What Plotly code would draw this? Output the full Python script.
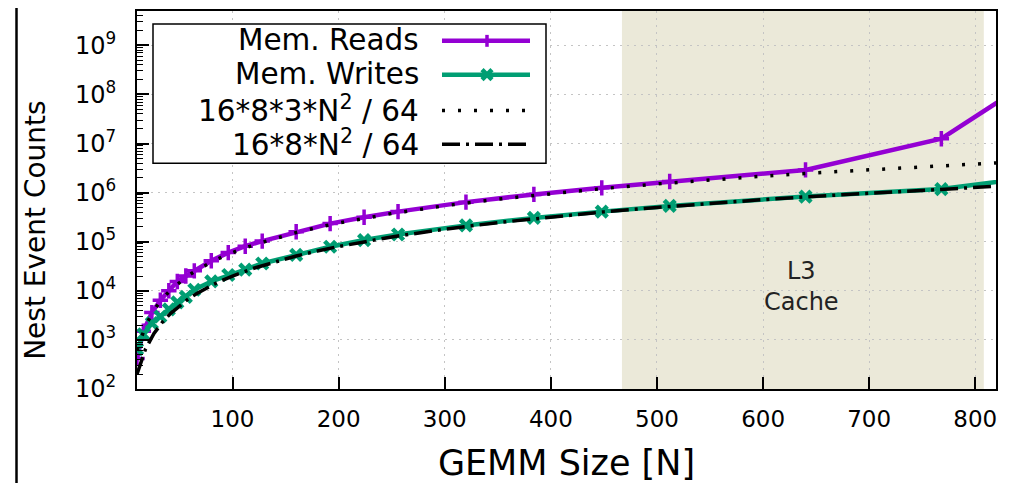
import plotly.graph_objects as go

# ---------------- data ----------------
N = [10, 16, 24, 32, 40, 48, 56, 64, 80, 96, 112, 128, 160, 192, 224,
     256, 320, 384, 448, 512, 640, 768, 896]
mem_reads = [420, 1500, 3600, 6400, 10000, 15500, 20000, 25500, 41000, 60000,
             81000, 103000, 159000, 234000, 315000, 410000, 640000, 920000,
             1250000, 1680000, 2900000, 12500000, 780000000]
mem_writes = [650, 1300, 2200, 3000, 4200, 5800, 7500, 10500, 15500, 21000,
              27000, 36000, 54000, 79000, 108000, 140000, 215000, 305000,
              410000, 535000, 830000, 1180000, 2700000]

N_fit = [10, 18, 26, 34, 42, 50, 58, 66, 74, 82, 90, 100, 120, 140, 160, 180,
         200, 250, 300, 350, 400, 450, 500, 550, 600, 650, 700, 750, 800, 820]
fit_reads = [600, 1944, 4056, 6936, 10584, 15000, 20184, 26136, 32856, 40344,
             48600, 60000, 86400, 117600, 153600, 194400, 240000, 375000,
             540000, 735000, 960000, 1215000, 1500000, 1815000, 2160000,
             2535000, 2940000, 3375000, 3840000, 4034400]
fit_writes = [200, 648, 1352, 2312, 3528, 5000, 6728, 8712, 10952, 13448,
              16200, 20000, 28800, 39200, 51200, 64800, 80000, 125000, 180000,
              245000, 320000, 405000, 500000, 605000, 720000, 845000, 980000,
              1125000, 1280000, 1344800]

series_names = ["Mem. Reads", "Mem. Writes",
                "16*8*3*N<sup>2</sup> / 64", "16*8*N<sup>2</sup> / 64"]

x_ticks = [100, 200, 300, 400, 500, 600, 700, 800]
y_ticks = [1e2, 1e3, 1e4, 1e5, 1e6, 1e7, 1e8, 1e9]
y_ticktext = ["10<sup>%d</sup>" % e for e in range(2, 10)]
y_minor = [m * 10 ** e for e in range(2, 10) for m in range(2, 10)]

L3_START, L3_END = 467, 808
X_RANGE = [10, 819.5]
Y_RANGE_LOG = [2, 9.699]

PURPLE = "#9400d3"
GREEN = "#009e73"
FONT = "DejaVu Sans"

# ---------------- layout geometry (page pixels) ----------------
PAGE_W, PAGE_H = 1026, 483
OFF = 8                      # default body margin of the html page
W, H = PAGE_W - OFF, PAGE_H - OFF
PL, PR, PT, PB = 137, 996, 9, 389


def px(x):
    return (x - PL) / (PR - PL)


def py(y):
    return (PB - y) / (PB - PT)


fig = go.Figure()

fig.add_trace(go.Scatter(x=N, y=mem_reads, mode="lines+markers",
                         name=series_names[0], showlegend=False,
                         line=dict(color=PURPLE, width=4.5),
                         marker=dict(symbol="cross-thin", size=11, color=PURPLE,
                                     line=dict(color=PURPLE, width=3.5))))
fig.add_trace(go.Scatter(x=N, y=mem_writes, mode="lines+markers",
                         name=series_names[1], showlegend=False,
                         line=dict(color=GREEN, width=4.5),
                         marker=dict(symbol="x-thin", size=11, color=GREEN,
                                     line=dict(color=GREEN, width=4.5))))
fig.add_trace(go.Scatter(x=N_fit, y=fit_reads, mode="lines",
                         name=series_names[2], showlegend=False,
                         line=dict(color="black", width=3.5, dash="3px,13px")))
fig.add_trace(go.Scatter(x=N_fit, y=fit_writes, mode="lines",
                         name=series_names[3], showlegend=False,
                         line=dict(color="black", width=3.5,
                                   dash="18px,6px,3px,6px")))

shapes = []
# L3 cache region
shapes.append(dict(type="rect", xref="x", yref="paper", x0=L3_START, x1=L3_END,
                   y0=0, y1=1, fillcolor="#ebe9d9", line=dict(width=0),
                   layer="between"))
# page border line at far left
shapes.append(dict(type="line", xref="paper", yref="paper",
                   x0=px(16.5), x1=px(16.5), y0=py(PAGE_H + 10), y1=py(-10),
                   line=dict(color="black", width=2.5)))

# custom legend (text right, sample left like gnuplot key)
shapes.append(dict(type="rect", xref="paper", yref="paper",
                   x0=px(153), x1=px(546), y0=py(162), y1=py(22),
                   fillcolor="white", line=dict(color="black", width=1.5),
                   layer="above"))
rows = [38, 72, 108, 142]
sx0, sx1, smid = 442, 530, 487
styles = [dict(color=PURPLE, width=4.5), dict(color=GREEN, width=4.5),
          dict(color="black", width=3.5, dash="3px,13px"),
          dict(color="black", width=3.5, dash="18px,6px,3px,6px")]
annotations = []
for name, ry, st in zip(series_names, rows, styles):
    shapes.append(dict(type="line", xref="paper", yref="paper",
                       x0=px(sx0), x1=px(sx1), y0=py(ry + 1), y1=py(ry + 1),
                       line=st, layer="above"))
    annotations.append(dict(text=name, xref="paper", yref="paper",
                            x=px(421), y=py(ry), xanchor="right",
                            yanchor="middle", showarrow=False,
                            font=dict(family=FONT, size=29.5, color="black")))
# legend markers
r0 = rows[0] + 1
shapes.append(dict(type="line", xref="paper", yref="paper",
                   x0=px(smid), x1=px(smid), y0=py(r0 - 6), y1=py(r0 + 6),
                   line=dict(color=PURPLE, width=3.5), layer="above"))
r1 = rows[1] + 1
for d in (-1, 1):
    shapes.append(dict(type="line", xref="paper", yref="paper",
                       x0=px(smid - 5), x1=px(smid + 5),
                       y0=py(r1 - 5 * d), y1=py(r1 + 5 * d),
                       line=dict(color=GREEN, width=4.5), layer="above"))

annotations.append(dict(text="L3<br>Cache", x=636, y=4.08, xref="x", yref="y",
                        showarrow=False,
                        font=dict(family=FONT, size=24, color="#222222")))
# y-axis title (placed like the reference, lower than plot centre)
annotations.append(dict(text="Nest Event Counts", xref="paper", yref="paper",
                        x=px(36), y=py(229), textangle=-90, showarrow=False,
                        xanchor="center", yanchor="middle",
                        font=dict(family=FONT, size=28, color="black")))

fig.update_layout(
    width=W, height=H,
    margin=dict(l=PL - OFF, r=W - (PR - OFF), t=PT - OFF, b=H - (PB - OFF),
                pad=0),
    paper_bgcolor="white", plot_bgcolor="white",
    font=dict(family=FONT, color="black"),
    shapes=shapes, annotations=annotations,
    showlegend=False,
)
fig.update_xaxes(
    range=X_RANGE, tickvals=x_ticks, ticks="inside", ticklen=12, tickwidth=1.5,
    tickcolor="black", showline=True, linecolor="black", linewidth=2,
    mirror=True, showgrid=True, gridcolor="#c4c4c4", gridwidth=1,
    griddash="2px,5px", zeroline=False,
    tickfont=dict(family=FONT, size=23, color="black"), ticklabelstandoff=8,
    title=dict(text="GEMM Size [N]", font=dict(family=FONT, size=35),
               standoff=22),
)
fig.update_yaxes(
    type="log", range=Y_RANGE_LOG, tickmode="array", tickvals=y_ticks,
    ticktext=y_ticktext, ticks="inside", ticklen=12, tickwidth=1.5,
    tickcolor="black", showline=True, linecolor="black", linewidth=2,
    mirror=True, showgrid=True, gridcolor="#c4c4c4", gridwidth=1,
    griddash="2px,5px", zeroline=False,
    minor=dict(tickmode="array", tickvals=y_minor, ticks="inside", ticklen=6,
               tickwidth=1, tickcolor="black", showgrid=False),
    tickfont=dict(family=FONT, size=24, color="black"), ticklabelstandoff=14,
)

fig.write_html("out.html")
